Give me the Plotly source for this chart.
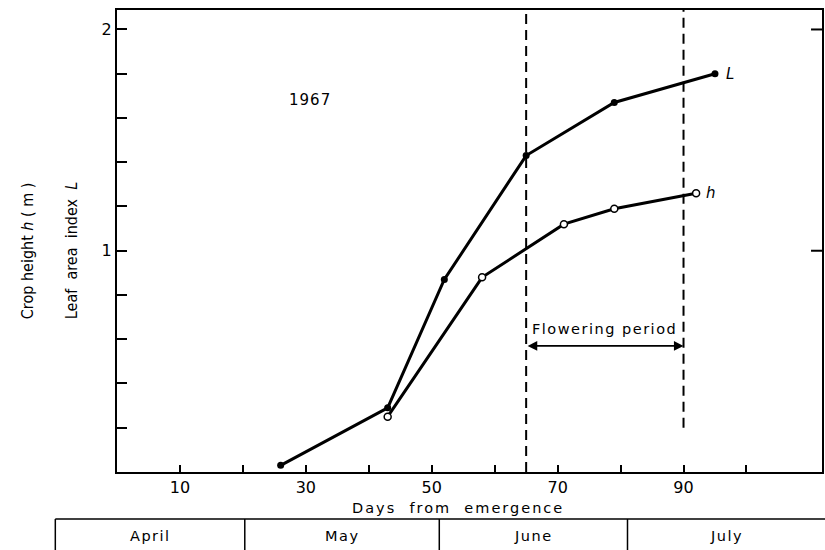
import plotly.graph_objects as go

# Leaf area index L (filled points) and crop height h in metres (open points)
days_L = [26, 43, 52, 65, 79, 95]
lai = [0.03, 0.29, 0.87, 1.43, 1.67, 1.80]
days_h = [43, 58, 71, 79, 92]
height = [0.25, 0.88, 1.12, 1.19, 1.26]

# Flowering period (days from emergence)
flower_start, flower_end = 65, 90

# Axis ticks
x_tickvals = [10, 20, 30, 40, 50, 60, 70, 80, 90, 100]
x_ticktext = ["10", "", "30", "", "50", "", "70", "", "90", ""]
y_tickvals = [0.2, 0.4, 0.6, 0.8, 1.0, 1.2, 1.4, 1.6, 1.8, 2.0]
y_ticktext = ["", "", "", "", "1", "", "", "", "", "2"]
y_right_ticks = [1.0, 2.0]

# Calendar strip: month boundaries expressed as days from emergence
month_names = ["April", "May", "June", "July"]
month_edges = [-9.8, 20.3, 51.2, 81.1, 113.0]

X_RANGE = [0, 112.0]
Y_RANGE = [0, 2.088]
FONT = "DejaVu Sans"
NARROW = "Liberation Sans Narrow, DejaVu Sans Condensed, DejaVu Sans"


def xpaper(day):
    """Convert days from emergence to a paper fraction along the x axis."""
    return (day - X_RANGE[0]) / (X_RANGE[1] - X_RANGE[0])


fig = go.Figure()

fig.add_trace(go.Scatter(
    x=days_L, y=lai, mode="lines+markers",
    line=dict(color="black", width=3),
    marker=dict(color="black", size=7),
    showlegend=False,
))
fig.add_trace(go.Scatter(
    x=days_h, y=height, mode="lines+markers",
    line=dict(color="black", width=3),
    marker=dict(color="white", size=7, line=dict(color="black", width=1.5)),
    showlegend=False,
))

# Dashed verticals bounding the flowering period
fig.add_shape(type="line", xref="x", yref="y",
              x0=flower_start, x1=flower_start, y0=0, y1=Y_RANGE[1],
              line=dict(color="black", width=2, dash="10px,6px"))
fig.add_shape(type="line", xref="x", yref="y",
              x0=flower_end, x1=flower_end, y0=0.2, y1=Y_RANGE[1],
              line=dict(color="black", width=2, dash="10px,6px"))

# Double-headed arrow and its label
fig.add_annotation(x=flower_end, y=0.57, ax=flower_start, ay=0.57,
                   xref="x", yref="y", axref="x", ayref="y",
                   text="", showarrow=True, arrowhead=2, arrowside="end+start",
                   arrowsize=1.2, arrowwidth=1.6, arrowcolor="black")
fig.add_annotation(x=(flower_start + flower_end) / 2, y=0.645, xref="x", yref="y",
                   xanchor="center", yanchor="middle",
                   text='<span style="letter-spacing:1.5px">Flowering period</span>',
                   showarrow=False, font=dict(family=FONT, size=14.5, color="black"))

# Series labels and year
fig.add_annotation(x=days_L[-1] + 2.4, y=lai[-1], xref="x", yref="y", text="<i>L</i>",
                   xanchor="center", yanchor="middle",
                   showarrow=False, font=dict(family=FONT, size=15, color="black"))
fig.add_annotation(x=days_h[-1] + 2.3, y=height[-1], xref="x", yref="y", text="<i>h</i>",
                   xanchor="center", yanchor="middle",
                   showarrow=False, font=dict(family=FONT, size=15, color="black"))
fig.add_annotation(x=30.6, y=1.68, xref="x", yref="y",
                   xanchor="center", yanchor="middle",
                   text='<span style="letter-spacing:1px">1967</span>',
                   showarrow=False, font=dict(family=FONT, size=15, color="black"))

# Axis titles
fig.add_annotation(x=xpaper(54.2), y=-0.078, xref="paper", yref="paper",
                   xanchor="center", yanchor="middle",
                   text='<span style="letter-spacing:2px">Days  from  emergence</span>',
                   showarrow=False, font=dict(family=FONT, size=14.5, color="black"))
fig.add_annotation(x=-0.1259, y=0.4784, xref="paper", yref="paper", textangle=-90,
                   xanchor="center", yanchor="middle",
                   text="Crop height <i>h</i> ( m )",
                   showarrow=False, font=dict(family=NARROW, size=16, color="black"))
fig.add_annotation(x=-0.0636, y=0.4784, xref="paper", yref="paper", textangle=-90,
                   xanchor="center", yanchor="middle",
                   text="Leaf  area  index  <i>L</i>",
                   showarrow=False, font=dict(family=NARROW, size=16, color="black"))

# Right-hand tick marks at the labelled values
for v in y_right_ticks:
    fig.add_shape(type="line", xref="paper", yref="y",
                  x0=1 - 11 / 707, x1=1, y0=v, y1=v,
                  line=dict(color="black", width=2))

# Calendar strip beneath the axis
TABLE_TOP, TABLE_BOTTOM = -0.1017, -0.25
fig.add_shape(type="line", xref="paper", yref="paper",
              x0=xpaper(month_edges[0]), x1=xpaper(month_edges[-1]),
              y0=TABLE_TOP, y1=TABLE_TOP,
              line=dict(color="black", width=1.5))
for edge in month_edges[:-1]:
    fig.add_shape(type="line", xref="paper", yref="paper",
                  x0=xpaper(edge), x1=xpaper(edge), y0=TABLE_TOP, y1=TABLE_BOTTOM,
                  line=dict(color="black", width=1.5))
for name, a, b in zip(month_names, month_edges[:-1], month_edges[1:]):
    fig.add_annotation(x=xpaper((a + min(b, 112.5)) / 2), y=-0.138,
                       xref="paper", yref="paper",
                       xanchor="center", yanchor="middle",
                       text=f'<span style="letter-spacing:1.5px">{name}</span>',
                       showarrow=False, font=dict(family=FONT, size=14.5, color="black"))

fig.update_layout(
    width=825, height=550,
    margin=dict(l=117, r=1, t=10, b=78),
    paper_bgcolor="white", plot_bgcolor="white",
    font=dict(family=FONT, size=15, color="black"),
    xaxis=dict(range=X_RANGE, tickvals=x_tickvals, ticktext=x_ticktext,
               ticks="inside", ticklen=7, tickwidth=2, tickcolor="black",
               showline=True, linecolor="black", linewidth=2, mirror=True,
               showgrid=False, zeroline=False,
               tickfont=dict(family=FONT, size=16)),
    yaxis=dict(range=Y_RANGE, tickvals=y_tickvals, ticktext=y_ticktext,
               ticks="inside", ticklen=10, tickwidth=2, tickcolor="black",
               showline=True, linecolor="black", linewidth=2, mirror=True,
               showgrid=False, zeroline=False,
               tickfont=dict(family=FONT, size=16)),
)

fig.write_html("out.html")
